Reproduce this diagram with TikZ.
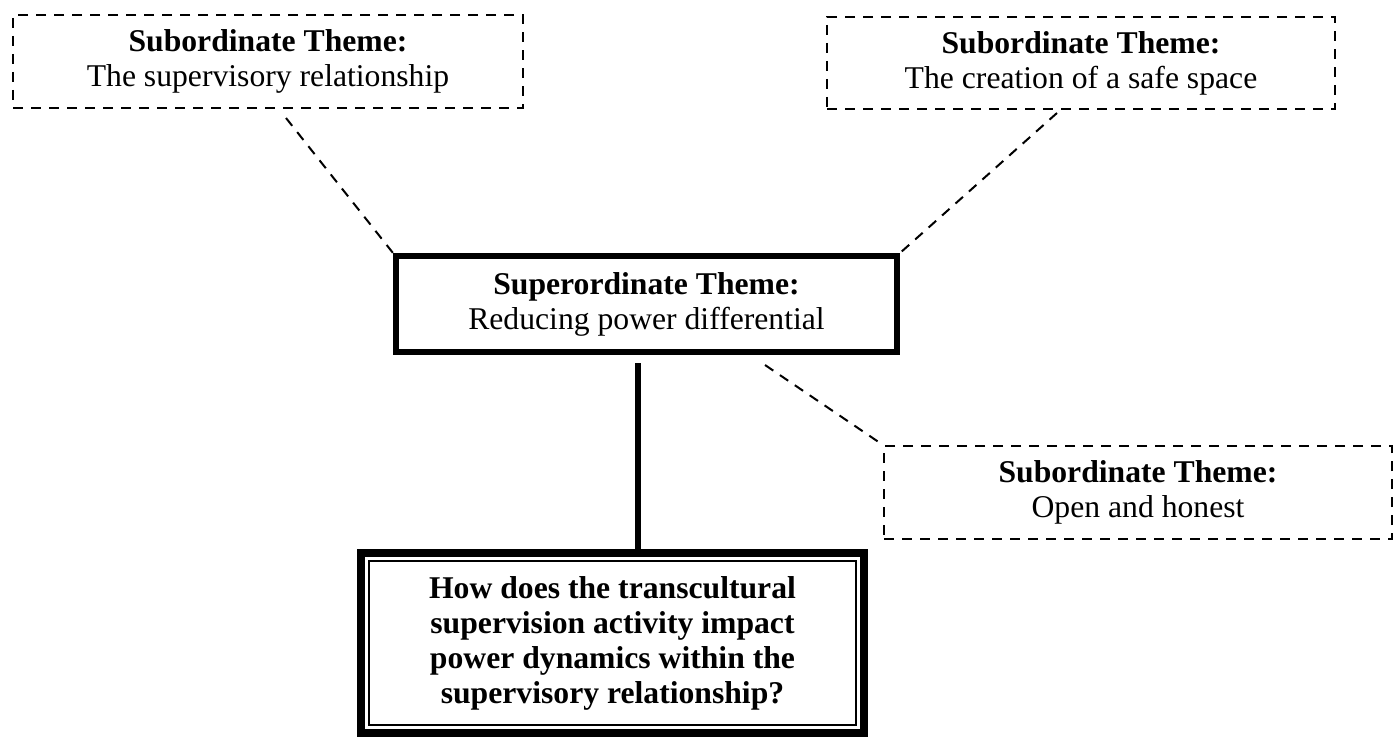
\documentclass[tikz,border=0pt]{standalone}
\usepackage{fontspec}
\setmainfont{Liberation Serif}
\usepackage{tikz}
\usetikzlibrary{positioning}
\tikzset{
  subtheme/.style={draw,dashed,dash pattern=on 7.5pt off 6pt,line width=1.5pt,
    align=center,inner sep=0pt,font=\fontsize{23.75}{26.25}\selectfont},
  supertheme/.style={draw,line width=4.5pt,align=center,inner sep=0pt,
    font=\fontsize{23.75}{26.25}\selectfont},
  question/.style={draw,line width=6pt,align=center,inner sep=0pt,
    font=\fontsize{23.75}{26.25}\selectfont\bfseries},
  link/.style={dashed,dash pattern=on 7.5pt off 6pt,line width=1.5pt},
  stem/.style={line width=4.5pt}
}
\begin{document}
\begin{tikzpicture}[x=0.75pt,y=-0.75pt]
  \useasboundingbox (0,0) rectangle (1399,738);
  \node[subtheme,minimum width=382.5pt,minimum height=69.75pt] (tl) at (268,61.5)
    {\textbf{Subordinate Theme:}\\The supervisory relationship};
  \node[subtheme,minimum width=381pt,minimum height=69pt] (tr) at (1081,63)
    {\textbf{Subordinate Theme:}\\The creation of a safe space};
  \node[supertheme,minimum width=375.75pt,minimum height=72pt] (sup) at (646.5,304)
    {\textbf{Superordinate Theme:}\\Reducing power differential};
  \node[subtheme,minimum width=381pt,minimum height=69.75pt] (open) at (1138,492.5)
    {\textbf{Subordinate Theme:}\\Open and honest};
  \node[question,minimum width=377.25pt,minimum height=135pt] (q) at (612.5,643)
    {How does the transcultural\\supervision activity impact\\power dynamics within the\\supervisory relationship?};
  % inner frame of the question box
  \draw[line width=1.5pt] ([shift={(12,12)}]q.north west) rectangle ([shift={(-12,-12)}]q.south east);
  \draw[link] ([shift={(18,9)}]tl.south) -- (sup.north west);
  \draw[link] ([shift={(-24,3)}]tr.south) -- (sup.north east);
  \draw[link] ([shift={(118.5,10)}]sup.south) -- (open.north west);
  \draw[stem] ([shift={(-8.5,8)}]sup.south) -- ([shift={(-8.5,8)}]sup.south |- q.north);
\end{tikzpicture}
\end{document}
